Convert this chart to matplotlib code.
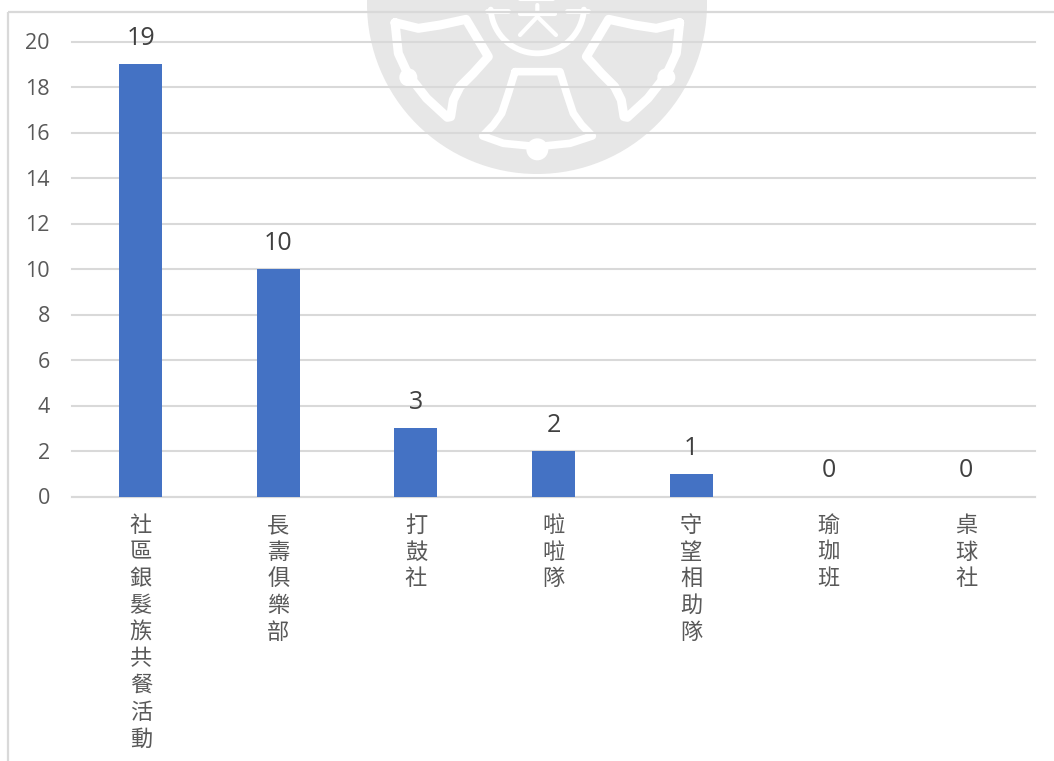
import numpy as np
import matplotlib
matplotlib.use("Agg")
import matplotlib.pyplot as plt
from matplotlib.patches import Circle
from matplotlib.transforms import ScaledTranslation

categories = ["社區銀髮族共餐活動", "長壽俱樂部", "打鼓社", "啦啦隊", "守望相助隊", "瑜珈班", "桌球社"]
values = [19, 10, 3, 2, 1, 0, 0]
y_ticks = list(range(0, 21, 2))

W, H = 1054, 761
GRID = "#D9D9D9"
TICK = "#595959"
LABEL = "#404040"
BAR = "#4472C4"
MARK = "#E7E7E7"

fig = plt.figure(figsize=(W / 100, H / 100), dpi=100, facecolor="white")

# ---- background layer in pixel coordinates: frame and faint watermark
bg = fig.add_axes([0, 0, 1, 1], zorder=0)
bg.set_xlim(0, W)
bg.set_ylim(H, 0)
bg.axis("off")
bg.add_patch(Circle((537, 4), 170, fc=MARK, ec="none"))


def z(points):
    return np.array([(340 + x / 3, y / 3) for x, y in points], dtype=float)


def stroke(points, lw=5.8):
    p = z(points)
    bg.plot(p[:, 0], p[:, 1], color="white", lw=lw, solid_joinstyle="round",
            solid_capstyle="round")


left_bell = [(165, 68), (235, 85), (300, 75), (378, 58), (445, 170), (400, 220), (360, 260),
             (340, 300), (332, 350), (322, 352), (260, 295), (205, 225), (175, 160), (165, 68)]
stroke(left_bell, 6.5)
stroke([(2 * 592 - x, y) for x, y in left_bell], 6.5)
for cx in (205, 2 * 592 - 205):
    c = z([(cx, 232)])[0]
    bg.add_patch(Circle(c, 9, fc="white", ec="none"))

mid_bell = [(525, 215), (660, 215), (680, 280), (700, 340), (725, 375), (757, 408), (690, 430),
            (592, 440), (490, 430), (428, 408), (460, 375), (485, 340), (505, 280), (525, 215)]
stroke(mid_bell, 5.5)
c = z([(592, 448)])[0]
bg.add_patch(Circle(c, 11, fc="white", ec="none"))

t = np.linspace(np.pi * 0.02, np.pi * 0.98, 40)
stroke([(592 + 140 * np.cos(a), 20 + 140 * np.sin(a)) for a in t], 4.2)
stroke([(442, 33), (505, 33)], 3.5)
stroke([(680, 33), (745, 33)], 3.5)
stroke([(540, 42), (645, 42)], 3)
stroke([(592, 15), (592, 50), (540, 105)], 3)
stroke([(592, 50), (648, 105)], 3)
stroke([(540, -3), (640, -3)], 3)

# outer chart frame: top and left edges only
bg.plot([8, W], [12, 12], color=GRID, lw=1.6, solid_capstyle="butt")
bg.plot([8, 8], [12, H], color=GRID, lw=1.6, solid_capstyle="butt")

# ---- chart layer
ax = fig.add_axes([72 / W, 1 - 496.5 / H, (1035 - 72) / W, 455 / H], zorder=1)
ax.patch.set_alpha(0)
x = np.arange(len(categories))
bars = ax.bar(x, values, width=0.3125, color=BAR, zorder=3)
ax.set_xlim(-0.5, len(categories) - 0.5)
ax.set_ylim(0, 20)
ax.set_yticks(y_ticks)
ax.set_xticks(x)
ax.set_xticklabels(["\n".join(c) for c in categories], family=["Noto Sans CJK TC", "DejaVu Sans"],
                   fontsize=16, color=TICK, linespacing=1.205, va="top")
ax.tick_params(axis="x", length=0, pad=12.5)
ax.tick_params(axis="y", length=0, pad=16, labelsize=15.5, labelcolor=TICK)
shift = ScaledTranslation(0, 0.4 / 100, fig.dpi_scale_trans)
for lab in ax.get_yticklabels():
    lab.set_family("Open Sans")
    lab.set_transform(lab.get_transform() + shift)
ax.grid(axis="y", color=GRID, lw=1.5, zorder=1, clip_on=False)
ax.set_axisbelow(True)
for s in ("top", "left", "right"):
    ax.spines[s].set_visible(False)
ax.spines["bottom"].set_color(GRID)
ax.spines["bottom"].set_linewidth(1.5)
ax.bar_label(bars, labels=[str(v) for v in values], padding=9.5, fontsize=18,
             color=LABEL, family="Open Sans", zorder=5)

fig.savefig("out.png", dpi=100, facecolor="white")
